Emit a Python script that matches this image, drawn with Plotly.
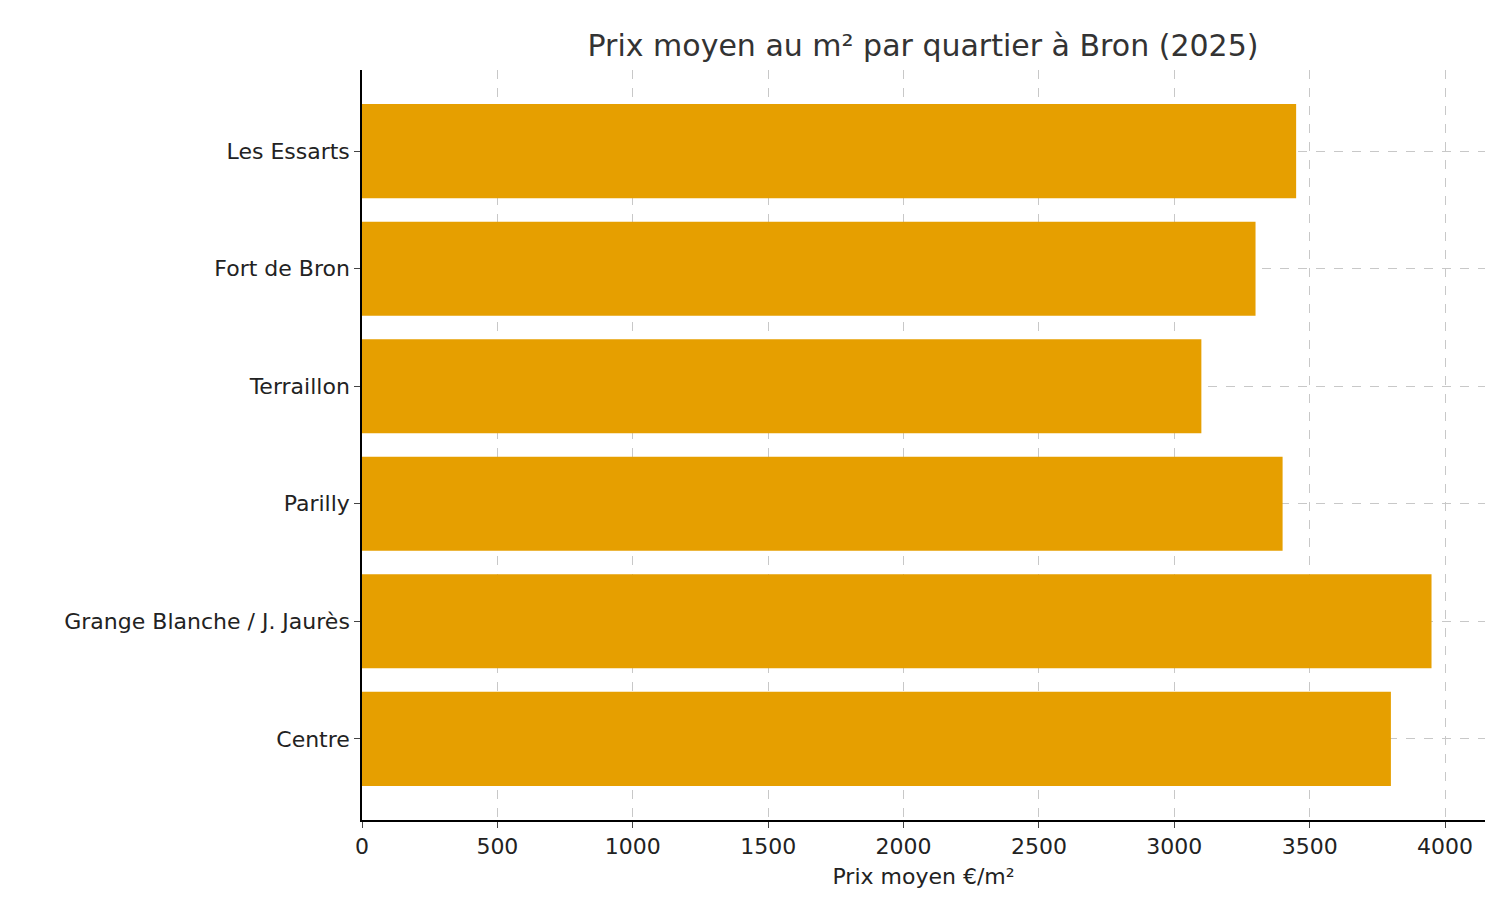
import plotly.graph_objects as go

quartiers = ["Centre", "Grange Blanche / J. Jaurès", "Parilly", "Terraillon", "Fort de Bron", "Les Essarts"]
prix = [3800, 3950, 3400, 3100, 3300, 3450]
x_ticks = [0, 500, 1000, 1500, 2000, 2500, 3000, 3500, 4000]

fig = go.Figure(go.Bar(
    x=prix, y=list(range(len(quartiers))), orientation="h",
    marker=dict(color="#E69F00", line=dict(width=0)), width=0.8,
))
font = "DejaVu Sans"
fig.update_layout(
    width=1500, height=900,
    plot_bgcolor="white", paper_bgcolor="white",
    margin=dict(l=354, r=23, t=62, b=88),
    title=dict(text="Prix moyen au m² par quartier à Bron (2025)", x=0.61, xanchor="center",
               y=0.958, yanchor="middle", font=dict(family=font, size=30, color="#333333")),
    showlegend=False,
    font=dict(family=font, size=22, color="#222222"),
)
fig.update_xaxes(
    range=[0, 4147.5], tickvals=x_ticks, ticktext=[str(v) for v in x_ticks],
    showline=True, linecolor="black", linewidth=1.5, ticks="outside", ticklen=6,
    showgrid=True, gridcolor="#c8c8c8", griddash="dash", gridwidth=1, zeroline=False,
    title=dict(text="Prix moyen €/m²", font=dict(size=22), standoff=10),
)
fig.update_yaxes(
    range=[-0.69, 5.69], tickvals=list(range(len(quartiers))), ticktext=quartiers,
    showline=True, linecolor="black", linewidth=1.5, ticks="outside", ticklen=6,
    showgrid=True, gridcolor="#c8c8c8", griddash="dash", gridwidth=1, zeroline=False,
)
fig.write_html("out.html")
